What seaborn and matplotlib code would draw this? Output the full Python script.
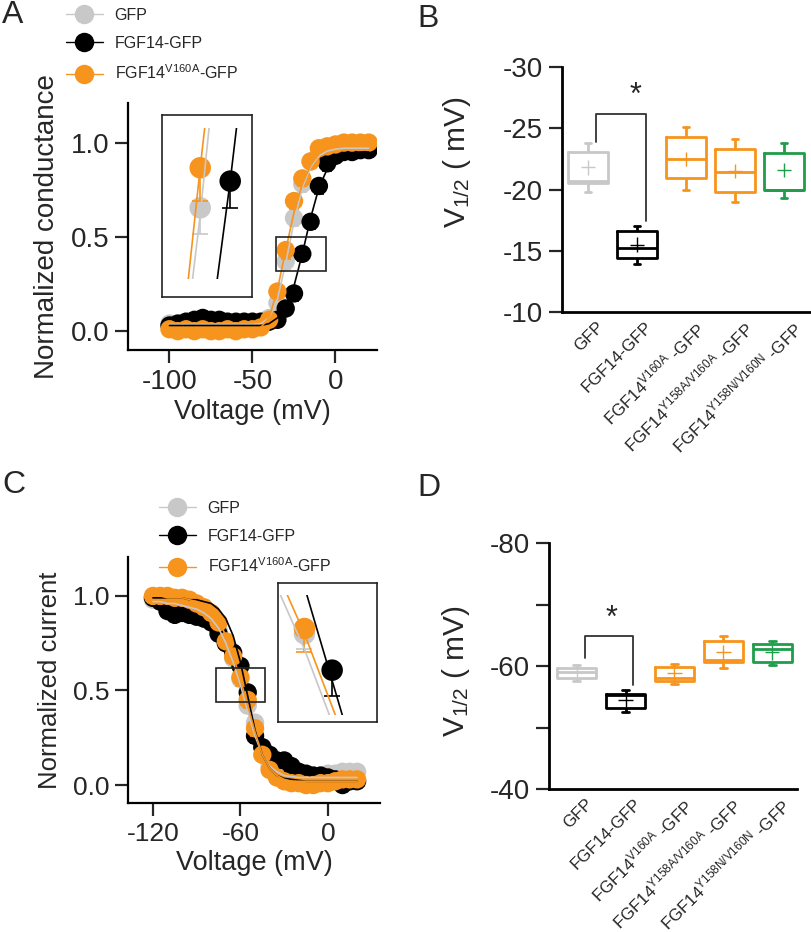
import numpy as np
import pandas as pd
import matplotlib
matplotlib.use('Agg')
import matplotlib.pyplot as plt
import seaborn as sns
from matplotlib.lines import Line2D
from matplotlib.patches import Rectangle
from matplotlib.transforms import ScaledTranslation

# ---------------- data ----------------
SERIES = ['GFP', 'FGF14-GFP', r'FGF14$^{\mathregular{V160A}}$-GFP']

# Panel A: activation (normalized conductance)
V_A = [-100, -95, -90, -85, -80, -75, -70, -65, -60, -55, -50, -45, -40,
       -35, -30, -25, -20, -15, -10, -5, 0, 5, 10, 15, 20]
G_gfp = [0.04, 0.04, 0.05, 0.05, 0.06, 0.05, 0.05, 0.05, 0.04, 0.05, 0.05, 0.05, 0.07,
         0.15, 0.37, 0.60, 0.78, 0.90, 0.94, 0.96, 0.97, 0.98, 0.98, 0.98, 0.98]
G_fgf = [0.03, 0.04, 0.05, 0.06, 0.07, 0.06, 0.06, 0.05, 0.05, 0.05, 0.05, 0.05, 0.05,
         0.06, 0.12, 0.20, 0.41, 0.58, 0.77, 0.89, 0.93, 0.95, 0.95, 0.96, 0.96]
G_v160a = [0.01, 0.00, 0.01, 0.00, 0.01, 0.00, 0.00, 0.01, 0.00, 0.01, 0.01, 0.02, 0.06,
           0.21, 0.43, 0.69, 0.81, 0.90, 0.97, 0.98, 0.99, 1.00, 1.00, 1.00, 1.00]
sem_gfp_A = [0.02, 0.02, 0.02, 0.02, 0.02, 0.02, 0.02, 0.02, 0.02, 0.02, 0.02, 0.02, 0.02,
             0.03, 0.04, 0.04, 0.04, 0.03, 0.03, 0.02, 0.02, 0.02, 0.02, 0.02, 0.02]
sem_fgf_A = [0.02, 0.02, 0.02, 0.02, 0.02, 0.02, 0.02, 0.02, 0.02, 0.02, 0.02, 0.02, 0.02,
             0.03, 0.03, 0.04, 0.04, 0.04, 0.04, 0.04, 0.04, 0.03, 0.03, 0.03, 0.03]
sem_v160a_A = [0.02, 0.02, 0.02, 0.02, 0.02, 0.02, 0.02, 0.02, 0.02, 0.02, 0.02, 0.02, 0.02,
               0.03, 0.05, 0.04, 0.04, 0.03, 0.02, 0.02, 0.02, 0.02, 0.02, 0.02, 0.02]
fit_gfp_A = [0.035, 0.035, 0.035, 0.035, 0.035, 0.035, 0.035, 0.035, 0.035, 0.035, 0.035, 0.04, 0.07,
             0.17, 0.36, 0.58, 0.76, 0.87, 0.93, 0.955, 0.965, 0.97, 0.97, 0.97, 0.97]
fit_fgf_A = [0.03, 0.03, 0.03, 0.03, 0.03, 0.03, 0.03, 0.03, 0.03, 0.03, 0.03, 0.03, 0.04,
             0.07, 0.13, 0.24, 0.41, 0.60, 0.76, 0.86, 0.91, 0.935, 0.945, 0.95, 0.95]
fit_v160a_A = [0.01, 0.01, 0.01, 0.01, 0.01, 0.01, 0.01, 0.01, 0.01, 0.01, 0.01, 0.02, 0.07,
               0.22, 0.43, 0.63, 0.78, 0.88, 0.94, 0.97, 0.985, 0.99, 0.99, 0.99, 0.99]
INSET_A_V = [-30, -20, -30]   # voltage of the point magnified for each series

# Panel C: steady-state inactivation (normalized current)
V_C = [-120, -115, -110, -105, -100, -95, -90, -85, -80, -75, -70, -65, -60, -55, -50,
       -45, -40, -35, -30, -25, -20, -15, -10, -5, 0, 5, 10, 15, 20]
I_gfp = [0.98, 0.97, 0.95, 0.94, 0.93, 0.92, 0.92, 0.90, 0.88, 0.82, 0.75, 0.67, 0.56, 0.42, 0.33,
         0.20, 0.10, 0.07, 0.06, 0.05, 0.05, 0.05, 0.05, 0.05, 0.06, 0.06, 0.07, 0.07, 0.07]
I_fgf = [0.99, 0.97, 0.92, 0.90, 0.91, 0.90, 0.89, 0.88, 0.86, 0.80, 0.75, 0.70, 0.63, 0.49, 0.26,
         0.20, 0.16, 0.13, 0.13, 0.10, 0.07, 0.06, 0.05, 0.05, 0.04, 0.03, 0.00, 0.02, 0.02]
I_v160a = [1.00, 1.00, 1.00, 0.99, 0.99, 0.98, 0.96, 0.94, 0.91, 0.86, 0.76, 0.68, 0.57, 0.45, 0.30,
           0.16, 0.08, 0.04, 0.02, 0.01, 0.01, 0.00, 0.00, 0.01, 0.01, 0.02, 0.03, 0.03, 0.03]
sem_gfp_C = [0.02, 0.02, 0.03, 0.03, 0.03, 0.03, 0.03, 0.03, 0.03, 0.03, 0.03, 0.03, 0.03, 0.04, 0.04,
             0.03, 0.02, 0.02, 0.02, 0.02, 0.02, 0.02, 0.02, 0.02, 0.02, 0.02, 0.02, 0.02, 0.02]
sem_fgf_C = [0.02, 0.03, 0.03, 0.03, 0.03, 0.03, 0.03, 0.03, 0.03, 0.03, 0.03, 0.04, 0.04, 0.05, 0.04,
             0.03, 0.03, 0.03, 0.02, 0.02, 0.02, 0.02, 0.02, 0.02, 0.02, 0.02, 0.02, 0.02, 0.02]
sem_v160a_C = [0.02, 0.02, 0.02, 0.02, 0.02, 0.02, 0.02, 0.02, 0.02, 0.03, 0.03, 0.03, 0.045, 0.04, 0.04,
               0.03, 0.02, 0.02, 0.02, 0.02, 0.02, 0.02, 0.02, 0.02, 0.02, 0.02, 0.02, 0.02, 0.02]
fit_gfp_C = [0.97, 0.97, 0.96, 0.96, 0.95, 0.94, 0.93, 0.91, 0.88, 0.83, 0.75, 0.65, 0.53, 0.39, 0.26,
             0.16, 0.10, 0.07, 0.05, 0.045, 0.04, 0.04, 0.04, 0.04, 0.04, 0.04, 0.04, 0.04, 0.04]
fit_fgf_C = [0.99, 0.99, 0.99, 0.99, 0.99, 0.98, 0.98, 0.97, 0.96, 0.93, 0.88, 0.79, 0.65, 0.47, 0.29,
             0.16, 0.09, 0.05, 0.035, 0.03, 0.025, 0.02, 0.02, 0.02, 0.02, 0.02, 0.02, 0.02, 0.02]
fit_v160a_C = [1.00, 1.00, 0.99, 0.99, 0.99, 0.98, 0.97, 0.95, 0.92, 0.87, 0.79, 0.68, 0.56, 0.42, 0.28,
               0.16, 0.09, 0.05, 0.03, 0.02, 0.02, 0.02, 0.02, 0.02, 0.02, 0.02, 0.02, 0.02, 0.02]
INSET_C_V = [-60, -55, -60]

# Panels B and D: V1/2 box plots (whisker low, Q1, median, Q3, whisker high)
GROUPS = ['GFP', 'FGF14-GFP', 'FGF14 V160A', 'FGF14 Y158A/V160A', 'FGF14 Y158N/V160N']
GROUP_LABELS = ['GFP', 'FGF14-GFP',
                r'FGF14$^{\mathregular{V160A}}$ -GFP',
                r'FGF14$^{\mathregular{Y158A/V160A}}$ -GFP',
                r'FGF14$^{\mathregular{Y158N/V160N}}$ -GFP']
B_gfp = [-23.8, -23.1, -20.7, -20.5, -19.8]
B_fgf = [-17.0, -16.6, -15.2, -14.4, -13.9]
B_v160a = [-25.1, -24.3, -22.5, -20.9, -20.0]
B_y158a = [-24.1, -23.3, -21.4, -19.8, -19.0]
B_y158n = [-23.8, -23.0, -20.0, -20.0, -19.3]
B_means = [-21.8, -15.5, -22.5, -21.5, -21.6]
D_gfp = [-60.2, -59.7, -59.1, -58.1, -57.6]
D_fgf = [-56.1, -55.5, -55.3, -53.1, -52.6]
D_v160a = [-60.4, -59.9, -58.0, -57.6, -57.1]
D_y158a = [-64.8, -64.0, -61.0, -60.6, -59.6]
D_y158n = [-64.1, -63.5, -62.7, -60.7, -60.1]
D_means = [-59.1, -54.5, -58.9, -62.2, -62.2]
# significance brackets (GFP vs FGF14-GFP)
B_bracket_x = [0.16, 0.16, 1.18, 1.18]
B_bracket_y = [-23.9, -26.2, -26.2, -17.4]
B_star = (0.96, -27.6)
D_bracket_x = [0.16, 0.16, 1.15, 1.15]
D_bracket_y = [-61.3, -64.8, -64.8, -56.9]
D_star = (0.72, -67.6)

# ---------------- style ----------------
GRAY, BLACK, ORANGE, GREEN = '#c8c8c8', '#000000', '#f7941d', '#1f9d4a'
COLORS3 = [GRAY, BLACK, ORANGE]
BOX_COLORS = [GRAY, BLACK, ORANGE, ORANGE, GREEN]

sns.set_style('ticks')
plt.rcParams['font.family'] = ['Liberation Sans', 'DejaVu Sans']
plt.rcParams['mathtext.fontset'] = 'custom'
plt.rcParams['mathtext.rm'] = 'Liberation Sans'
plt.rcParams['mathtext.it'] = 'Liberation Sans:italic'
plt.rcParams['mathtext.bf'] = 'Liberation Sans:bold'

W, H = 812, 932
fig = plt.figure(figsize=(W / 100, H / 100), dpi=100)


def px_axes(l, t, r, b):
    return fig.add_axes([l / W, 1 - b / H, (r - l) / W, (b - t) / H])


def style_axes(ax, lw=1.6):
    sns.despine(ax=ax)
    for s in ['left', 'bottom']:
        ax.spines[s].set_linewidth(lw)
        ax.spines[s].set_color('black')


def draw_points(ax, V, ys, sems, sel=None, s=175, capsize=3.5):
    V = np.asarray(V)
    for k, (y, e, c) in enumerate(zip(ys, sems, COLORS3)):
        y = np.asarray(y)
        e = np.asarray(e)
        if sel is not None:
            m = V == sel[k]
            vv, yy, ee = V[m], y[m], e[m]
        else:
            vv, yy, ee = V, y, e
        ax.errorbar(vv, yy, yerr=[ee, np.zeros_like(ee)], fmt='none', ecolor=c,
                    elinewidth=1.2, capsize=capsize, capthick=1.2, zorder=2 + 0.2 * k)
        sns.scatterplot(x=vv, y=yy, color=c, s=s, edgecolor='none', linewidth=0,
                        ax=ax, zorder=2.1 + 0.2 * k, legend=False)


def draw_fits(ax, V, fits, clip=None):
    for f, c in zip(fits, COLORS3):
        n = len(ax.lines)
        sns.lineplot(x=V, y=f, color=c, lw=1.2, ax=ax, zorder=4, legend=False,
                     estimator=None, sort=False)
        if clip is not None:
            for ln in ax.lines[n:]:
                rect = Rectangle((0, clip[0]), 1, clip[1] - clip[0], transform=ax.transAxes)
                ln.set_clip_path(rect)


def legend(ax, x, y):
    handles = [Line2D([], [], color=c, marker='o', markersize=14, lw=1.0,
                      markeredgewidth=0) for c in COLORS3]
    ax.legend(handles, SERIES, loc='upper left', bbox_to_anchor=(x / W, 1 - y / H),
              bbox_transform=fig.transFigure, frameon=False, fontsize=11.5,
              handlelength=2.3, handletextpad=0.75, labelspacing=0.8,
              borderpad=0, borderaxespad=0)


def inset_frame(axin):
    axin.set_xticks([])
    axin.set_yticks([])
    for s in axin.spines.values():
        s.set_visible(True)
        s.set_linewidth(1.2)
        s.set_color('#222222')
    axin.set_facecolor('white')


# ---------------- Panel A ----------------
axA = px_axes(128, 103, 377, 350)
draw_points(axA, V_A, [G_gfp, G_fgf, G_v160a], [sem_gfp_A, sem_fgf_A, sem_v160a_A])
draw_fits(axA, V_A, [fit_gfp_A, fit_fgf_A, fit_v160a_A])
axA.set_xlim(-125, 25)
axA.set_ylim(-0.1, 1.21)
axA.set_xticks([-100, -50, 0], ['-100', '-50', '0'])
axA.set_yticks([0, 0.5, 1.0], ['0.0', '0.5', '1.0'])
axA.tick_params(direction='out', length=9.5, width=1.6, labelsize=20, pad=4)
axA.set_xlabel('Voltage (mV)', fontsize=19.5, labelpad=3)
axA.set_ylabel('Normalized conductance', fontsize=20, labelpad=8)
style_axes(axA)
axA.add_patch(Rectangle((-36, 0.32), 30, 0.18, fill=False, lw=1.2, ec='#222222', zorder=5))
axinA = axA.inset_axes([-104.8, 0.18, 54.2, 0.966], transform=axA.transData)
draw_points(axinA, V_A, [G_gfp, G_fgf, G_v160a], [sem_gfp_A, sem_fgf_A, sem_v160a_A],
            sel=INSET_A_V, s=240, capsize=6)
draw_fits(axinA, V_A, [fit_gfp_A, fit_fgf_A, fit_v160a_A], clip=(0.1, 0.93))
axinA.set_xlim(-42.9, -12.9)
axinA.set_ylim(0.236, 0.509)
inset_frame(axinA)
legend(axA, 66, 8)

# ---------------- Panel C ----------------
axC = px_axes(128, 557, 380, 803)
draw_points(axC, V_C, [I_gfp, I_fgf, I_v160a], [sem_gfp_C, sem_fgf_C, sem_v160a_C])
draw_fits(axC, V_C, [fit_gfp_C, fit_fgf_C, fit_v160a_C])
axC.set_xlim(-137.1, 35.7)
axC.set_ylim(-0.095, 1.206)
axC.set_xticks([-120, -60, 0], ['-120', '-60', '0'])
axC.set_yticks([0, 0.5, 1.0], ['0.0', '0.5', '1.0'])
axC.tick_params(direction='out', length=9.5, width=1.6, labelsize=19, pad=4)
axC.set_xlabel('Voltage (mV)', fontsize=19.5, labelpad=3)
axC.set_ylabel('Normalized current', fontsize=18.5, labelpad=8)
style_axes(axC)
axC.add_patch(Rectangle((-76.8, 0.44), 33.6, 0.18, fill=False, lw=1.2, ec='#222222', zorder=5))
axinC = axC.inset_axes([-34.3, 0.335, 67.9, 0.735], transform=axC.transData)
draw_points(axinC, V_C, [I_gfp, I_fgf, I_v160a], [sem_gfp_C, sem_fgf_C, sem_v160a_C],
            sel=INSET_C_V, s=240, capsize=6)
draw_fits(axinC, V_C, [fit_gfp_C, fit_fgf_C, fit_v160a_C], clip=(0.05, 0.91))
axinC.set_xlim(-64.8, -46.9)
axinC.set_ylim(0.391, 0.658)
inset_frame(axinC)
legend(axC, 159, 501)


# ---------------- Panels B and D ----------------
def box_panel(ax, stats, means, ylim, yticks, ylabels, minor, xlim,
              bx, by, star, label_xy):
    df = pd.DataFrame({'group': np.repeat(GROUPS, 5), 'v': np.concatenate(stats)})
    kw = dict(data=df, x='group', y='v', hue='group', palette=BOX_COLORS, order=GROUPS,
              hue_order=GROUPS, fill=False, whis=np.inf, width=0.8, linewidth=2.0,
              legend=False, ax=ax)
    try:
        sns.boxplot(capwidths=0.14, **kw)
    except Exception:
        ax.cla()
        sns.boxplot(**kw)
    dm = pd.DataFrame({'group': GROUPS, 'mean': means})
    sns.scatterplot(data=dm, x='group', y='mean', hue='group', palette=BOX_COLORS,
                    hue_order=GROUPS, marker='+', s=110, linewidth=1.0, legend=False,
                    ax=ax, zorder=5)
    ax.plot(bx, by, color='#333333', lw=1.3, zorder=5)
    ax.text(star[0], star[1], '*', ha='center', va='center', fontsize=22, zorder=5)
    ax.set_xlim(*xlim)
    ax.set_ylim(*ylim)
    ax.set_yticks(yticks, ylabels)
    if minor:
        ax.set_yticks(minor, minor=True)
    ax.set_xticks(range(len(GROUPS)), GROUP_LABELS)
    ax.tick_params(axis='y', which='both', direction='out', length=9.5, width=1.6,
                   labelsize=20, pad=4)
    ax.tick_params(axis='x', length=0, pad=5, labelsize=12.2)
    off = ScaledTranslation(8 / 100, 0, fig.dpi_scale_trans)
    for lab in ax.get_xticklabels():
        lab.set_rotation(45)
        lab.set_ha('right')
        lab.set_va('top')
        lab.set_rotation_mode('anchor')
        lab.set_transform(lab.get_transform() + off)
    ax.set_xlabel('')
    ax.set_ylabel(r'V$_{\mathregular{1/2}}$ ( mV)', fontsize=21.5)
    ax.yaxis.set_label_coords(*label_xy)
    style_axes(ax, lw=2.0)


axB = px_axes(562, 67, 810, 312)
box_panel(axB, [B_gfp, B_fgf, B_v160a, B_y158a, B_y158n], B_means, (-10, -30),
          [-30, -25, -20, -15, -10], ['-30', '-25', '-20', '-15', '-10'], None,
          (-0.53, 4.53), B_bracket_x, B_bracket_y, B_star, (-0.36, 0.61))

axD = px_axes(549, 543, 797, 789)
box_panel(axD, [D_gfp, D_fgf, D_v160a, D_y158a, D_y158n], D_means, (-40, -80),
          [-80, -60, -40], ['-80', '-60', '-40'], [-70, -50],
          (-0.57, 4.51), D_bracket_x, D_bracket_y, D_star, (-0.31, 0.48))

# panel letters
for letter, x, y in [('A', 2, 0), ('B', 417, 4), ('C', 2, 470), ('D', 417, 473)]:
    fig.text(x / W, 1 - y / H, letter, fontsize=23, ha='left', va='top')

fig.savefig('out.png', dpi=100)
